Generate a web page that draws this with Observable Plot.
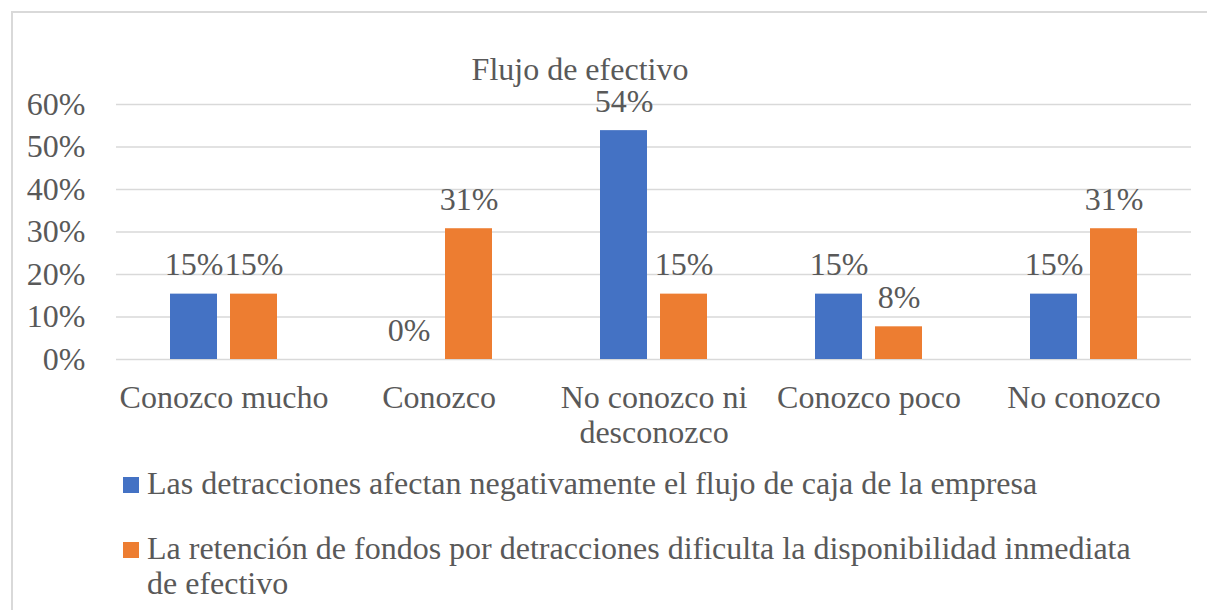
<!DOCTYPE html>
<html>
<head>
<meta charset="utf-8">
<script src="https://cdn.jsdelivr.net/npm/d3@7"></script>
<script src="https://cdn.jsdelivr.net/npm/@observablehq/plot@0.6"></script>
<style>
  html, body { margin:0; padding:0; background:#fff; overflow:hidden; width:1207px; height:610px; }
  body { position:relative; color:#595959; font-family:"Liberation Serif", serif; }
  #frame { position:absolute; left:11px; top:11px; width:1300px; height:700px; border:2px solid #d9d9d9; box-sizing:border-box; }
  #chart { position:absolute; left:0; top:0; }
  #title { position:absolute; left:0; top:52px; width:1160px; text-align:center; font-size:32px; line-height:35px; white-space:nowrap; }
  .leg { position:absolute; left:123px; font-size:32px; line-height:35px; }
  .sw { position:absolute; left:0; top:11px; width:16px; height:16px; }
  .lt { position:absolute; left:24px; width:1005px; }
</style>
</head>
<body>
<div id="frame"></div>
<div id="chart"></div>
<div id="title">Flujo de efectivo</div>
<div id="legend"></div>
<script>
const categories = ["Conozco mucho", "Conozco", "No conozco ni desconozco", "Conozco poco", "No conozco"];
const categoryLabels = ["Conozco mucho", "Conozco", "No conozco ni\ndesconozco", "Conozco poco", "No conozco"];
const series = [
  "Las detracciones afectan negativamente el flujo de caja de la empresa",
  "La retención de fondos por detracciones dificulta la disponibilidad inmediata de efectivo"
];
const seriesA = [0.1538, 0.0, 0.5385, 0.1538, 0.1538];
const seriesB = [0.1538, 0.3077, 0.1538, 0.0769, 0.3077];
const yTicks = [0, 0.1, 0.2, 0.3, 0.4, 0.5, 0.6];
const colors = ["#4472C4", "#ED7D31"];

const fam = '"Liberation Serif", serif';
const pct = v => Math.round(v * 100) + "%";
const data = categories.flatMap((c, i) => [
  {cat: c, s: series[0], v: seriesA[i]},
  {cat: c, s: series[1], v: seriesB[i]}
]);

const chart = Plot.plot({
  width: 1207,
  height: 460,
  marginTop: 104,
  marginBottom: 101,
  marginLeft: 115,
  marginRight: 15,
  style: {fontFamily: fam, fontSize: "32px", color: "#595959", background: "transparent", overflow: "visible"},
  fx: {domain: categories, padding: 0, label: null},
  x: {domain: series, paddingInner: 0.213, paddingOuter: 0.872, axis: null},
  y: {domain: [0, 0.6], axis: null},
  color: {domain: series, range: colors},
  marks: [
    Plot.gridY(yTicks, {stroke: "#d9d9d9", strokeOpacity: 1, strokeWidth: 1.5}),
    Plot.axisY(yTicks, {tickSize: 0, tickPadding: 31, tickFormat: pct, label: null, fill: "#595959", fontFamily: fam}),
    Plot.axisFx({anchor: "bottom", tickSize: 0, tickPadding: 23, lineHeight: 1.1, label: null, fill: "#595959", fontFamily: fam,
      tickFormat: c => categoryLabels[categories.indexOf(c)]}),
    Plot.barY(data, {fx: "cat", x: "s", y: "v", fill: "s"}),
    Plot.text(data, {fx: "cat", x: "s", y: "v", text: d => pct(d.v), dy: -19, lineAnchor: "bottom", fill: "#595959", fontFamily: fam})
  ]
});
document.getElementById("chart").appendChild(chart);

const legendTops = [466, 531];
const legend = document.getElementById("legend");
series.forEach((s, i) => {
  const item = document.createElement("div");
  item.className = "leg";
  item.style.top = legendTops[i] + "px";
  const sw = document.createElement("span");
  sw.className = "sw";
  sw.style.background = colors[i];
  const t = document.createElement("span");
  t.className = "lt";
  t.textContent = s;
  item.appendChild(sw);
  item.appendChild(t);
  legend.appendChild(item);
});
</script>
</body>
</html>
